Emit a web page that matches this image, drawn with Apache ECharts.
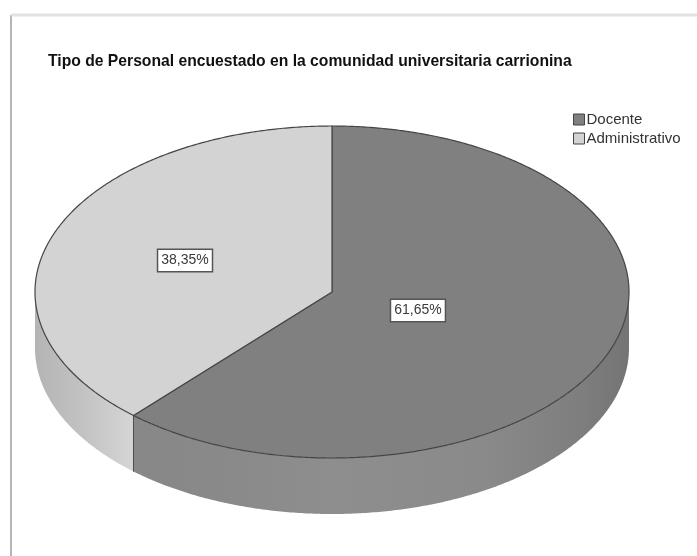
<!DOCTYPE html>
<html>
<head>
<meta charset="utf-8">
<script src="https://cdn.jsdelivr.net/npm/echarts@6/dist/echarts.min.js"></script>
<style>
html,body{margin:0;padding:0;background:#fff;}
#chart{width:697px;height:556px;}
</style>
</head>
<body>
<div id="chart"></div>
<script>
// ---- data ----
const titleText = 'Tipo de Personal encuestado en la comunidad universitaria carrionina';
const categories = ['Docente', 'Administrativo'];
const percentages = [61.65, 38.35];

// ---- styles ----
const topColors = ['#808080', '#d3d3d3'];
const sideGradients = [
  [[0, '#868686'], [0.3, '#898989'], [0.5, '#8e8e8e'], [0.75, '#8a8a8a'], [0.92, '#7e7e7e'], [1, '#747474']],
  [[0, '#b4b4b4'], [0.08, '#c2c2c2'], [0.16, '#d4d4d4'], [0.2, '#dadada'], [1, '#dadada']]
];
const labelFrac = [0.31, 0.53];

const CX = 332, CY = 292, RX = 297, RY = 166, DEPTH = 56;

const total = percentages.reduce((a, b) => a + b, 0);
const starts = [];
let acc = 0;
percentages.forEach(v => { starts.push(acc / total * 360); acc += v; });

function pt(deg, dy) {
  const r = deg * Math.PI / 180;
  return [CX + RX * Math.sin(r), CY - RY * Math.cos(r) + (dy || 0)];
}
function arc(a, b, dy) {
  const pts = [];
  const n = Math.max(2, Math.ceil(Math.abs(b - a) / 0.5));
  for (let i = 0; i <= n; i++) pts.push(pt(a + (b - a) * i / n, dy));
  return pts;
}
function fmt(v) { return v.toFixed(2).replace('.', ',') + '%'; }

function makeRender(idx) {
  return function (params, api) {
    const value = api.value(0);
    const a = starts[idx];
    const b = a + value / total * 360;
    const children = [];
    // side (front half only: 90..270 deg)
    const s = Math.max(a, 90), e = Math.min(b, 270);
    if (e > s) {
      const topArc = arc(s, e, 0);
      const botArc = arc(e, s, DEPTH);
      children.push({
        type: 'polygon',
        z2: 1,
        shape: { points: topArc.concat(botArc) },
        style: {
          fill: {
            type: 'linear', x: CX - RX, y: 0, x2: CX + RX, y2: 0, global: true,
            colorStops: sideGradients[idx].map(c => ({ offset: c[0], color: c[1] }))
          },
          stroke: null
        }
      });
      if (a > 90 && a < 270) {
        const p = pt(a, 0);
        children.push({ type: 'line', z2: 2, shape: { x1: p[0], y1: p[1], x2: p[0], y2: p[1] + DEPTH }, style: { stroke: '#505050', lineWidth: 1 } });
      }
      if (b > 90 && b < 270) {
        const p = pt(b, 0);
        children.push({ type: 'line', z2: 2, shape: { x1: p[0], y1: p[1], x2: p[0], y2: p[1] + DEPTH }, style: { stroke: '#505050', lineWidth: 1 } });
      }
    }
    // top face
    children.push({
      type: 'polygon',
      z2: 10,
      shape: { points: [[CX, CY]].concat(arc(a, b, 0)) },
      style: { fill: topColors[idx], stroke: '#454545', lineWidth: 1.2, lineJoin: 'round' }
    });
    // label
    const mid = (a + b) / 2 * Math.PI / 180;
    const f = labelFrac[idx];
    children.push({
      type: 'text',
      z2: 20,
      x: CX + RX * f * Math.sin(mid),
      y: CY - RY * f * Math.cos(mid),
      style: {
        text: fmt(value),
        fill: '#3a3a3a',
        font: '14px "Liberation Sans", Arial, sans-serif',
        align: 'center',
        verticalAlign: 'middle',
        backgroundColor: '#ffffff',
        borderColor: '#555555',
        borderWidth: 1.5,
        padding: [4, 3, 3, 3]
      }
    });
    return { type: 'group', children: children };
  };
}

const chart = echarts.init(document.getElementById('chart'), null, { renderer: 'canvas' });
chart.setOption({
  animation: false,
  backgroundColor: '#ffffff',
  title: {
    text: titleText,
    left: 48, top: 54,
    padding: 0,
    textStyle: { fontFamily: '"Liberation Sans", Arial, sans-serif', fontSize: 15.7, fontWeight: 'bold', color: '#111' }
  },
  legend: {
    data: categories,
    orient: 'vertical',
    left: 573, top: 112,
    padding: 0,
    itemGap: 4,
    itemWidth: 11, itemHeight: 11,
    icon: 'rect',
    selectedMode: false,
    itemStyle: { borderColor: '#444', borderWidth: 1 },
    textStyle: { fontFamily: '"Liberation Sans", Arial, sans-serif', fontSize: 15, color: '#333', padding: [0, 0, 0, -3] }
  },
  graphic: [
    { type: 'line', shape: { x1: 11, y1: 15, x2: 11, y2: 556 }, style: { stroke: '#b5b5b5', lineWidth: 2 } },
    { type: 'line', shape: { x1: 11, y1: 15, x2: 697, y2: 15 }, style: { stroke: '#e2e2e2', lineWidth: 3 } }
  ],
  series: categories.map((name, i) => ({
    type: 'custom',
    name: name,
    coordinateSystem: 'none',
    silent: true,
    itemStyle: { color: topColors[i] },
    renderItem: makeRender(i),
    data: [[percentages[i]]]
  }))
});
</script>
</body>
</html>
